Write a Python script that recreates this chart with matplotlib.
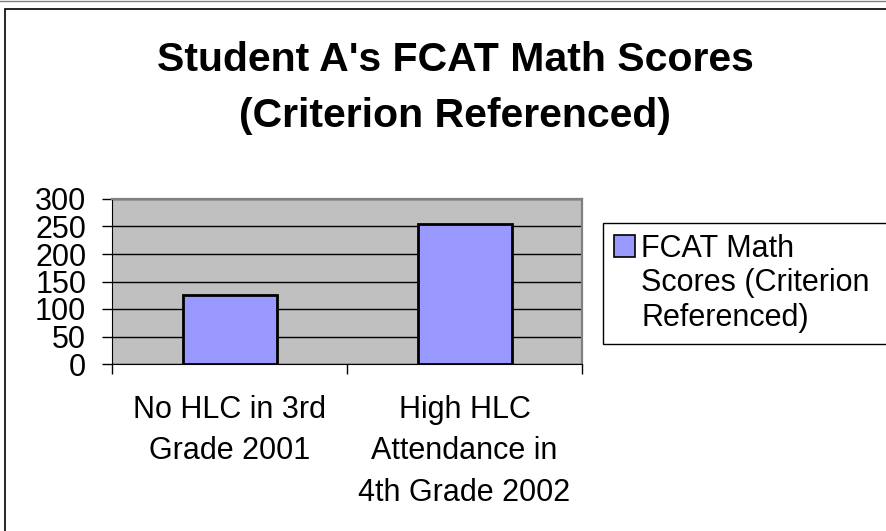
import numpy as np
import matplotlib.pyplot as plt
from matplotlib.patches import Rectangle, Patch

categories = ["No HLC in 3rd\nGrade 2001", "High HLC\nAttendance in\n4th Grade 2002"]
scores = [126, 254]
legend_lines = ["FCAT Math", "Scores (Criterion", "Referenced)"]
yticks = [0, 50, 100, 150, 200, 250, 300]

plt.rcParams['font.family'] = ['Liberation Sans', 'DejaVu Sans']

W, H = 886, 531
fig = plt.figure(figsize=(W / 100, H / 100), dpi=100)

# outer chart border (runs off the right and bottom edges)
fig.patches.append(Rectangle((5 / W, -0.1), 1.2, 1 - 9 / H + 0.1,
                             transform=fig.transFigure, fill=False,
                             edgecolor='black', linewidth=1.2))
fig.add_artist(plt.Line2D([0, 1], [1 - 0.5 / H, 1 - 0.5 / H],
                          transform=fig.transFigure, color='#808080', linewidth=1))

ax = fig.add_axes([112 / W, 1 - 364 / H, 470 / W, 165 / H])
ax.set_facecolor('#C0C0C0')
x = np.arange(len(categories))
ax.bar(x, scores, width=0.4, color='#9999FF', edgecolor='black', linewidth=2, zorder=3)
ax.set_xlim(-0.5, len(categories) - 0.5)
ax.set_ylim(0, 300)
ax.set_yticks(yticks)
ax.set_yticklabels([str(v) for v in yticks], fontsize=22)
ax.yaxis.grid(True, color='black', linewidth=1, zorder=1)
ax.set_axisbelow(True)

# category ticks sit between categories, labels centred under bars
ax.set_xticks([-0.5, 0.5, 1.5])
ax.set_xticklabels([])
ax.set_xticks(x, minor=True)
ax.set_xticklabels(categories, minor=True, fontsize=22, linespacing=1.5)
ax.tick_params(axis='x', which='major', length=7.5, width=1, direction='out')
ax.tick_params(axis='x', which='minor', length=0, pad=22)
ax.tick_params(axis='y', length=7.5, width=1, pad=11)
for side in ['top', 'right']:
    ax.spines[side].set_color('#808080')
    ax.spines[side].set_linewidth(1.6)
ax.spines['left'].set_color('black')
ax.spines['bottom'].set_color('black')

fig.text(455 / W, 1 - 88 / H, "Student A's FCAT Math Scores\n(Criterion Referenced)",
         ha='center', va='center', fontsize=29.5, fontweight='bold', linespacing=1.6)

# legend frame runs past the right edge like the original
handles = [Patch(facecolor='#9999FF', edgecolor='black', linewidth=1.2)]
handles += [Patch(visible=False) for _ in legend_lines[1:]]
fig.legend(handles, legend_lines, loc='upper left',
           bbox_to_anchor=(603 / W, 1 - 223 / H, 320 / W, 0), mode='expand',
           fontsize=22, frameon=True, fancybox=False, edgecolor='black', framealpha=1,
           handlelength=0.7, handleheight=0.7, handletextpad=0.2,
           borderpad=0.35, borderaxespad=0, labelspacing=0.15)

plt.savefig("out.png", dpi=100)
